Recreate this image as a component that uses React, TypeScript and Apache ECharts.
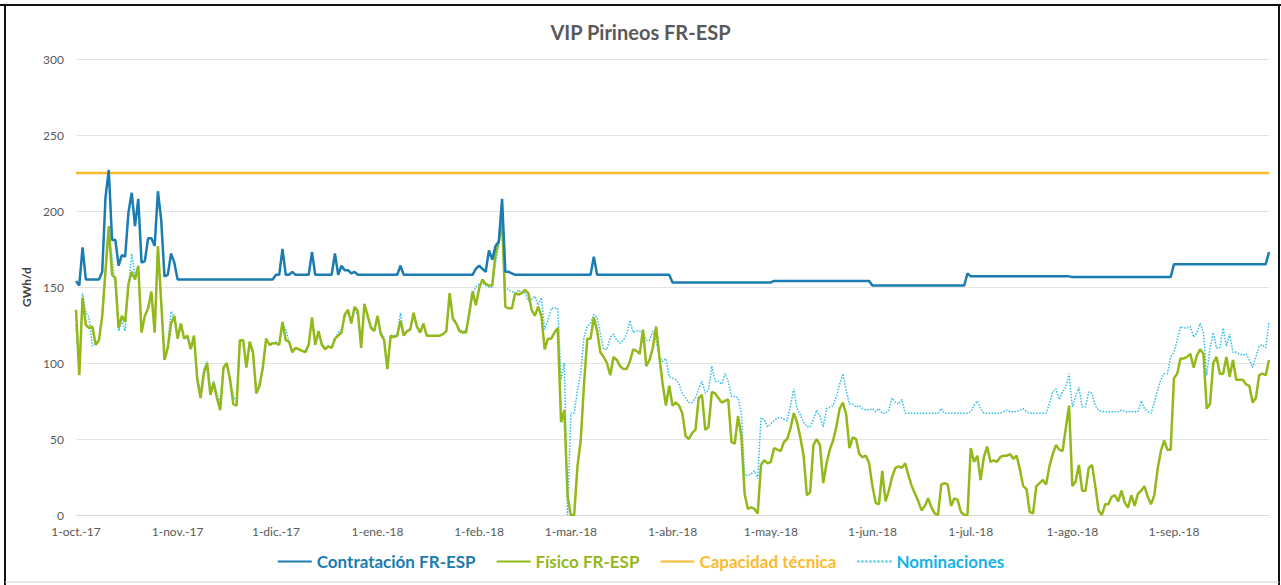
import React, { useEffect, useRef } from "react";
import * as echarts from "echarts";

const MONTHS = ["oct.", "nov.", "dic.", "ene.", "feb.", "mar.", "abr.", "may.", "jun.", "jul.", "ago.", "sep."];
const MONTH_DAYS = [31, 30, 31, 31, 28, 31, 30, 31, 30, 31, 31, 30];
const MONTH_YEARS = ["17", "17", "17", "18", "18", "18", "18", "18", "18", "18", "18", "18"];

const categories: string[] = [];
MONTHS.forEach((m, i) => {
  for (let d = 1; d <= MONTH_DAYS[i]; d++) categories.push(`${d}-${m}-${MONTH_YEARS[i]}`);
});

const contratacion = [
  154, 151, 176, 155, 155, 155, 155, 155, 160, 209,
  227, 181, 181, 164, 171, 170, 199, 212, 190, 208,
  166, 167, 182, 182, 177, 213, 194, 157, 158, 172,
  166, 155, 155, 155, 155, 155, 155, 155, 155, 155,
  155, 155, 155, 155, 155, 155, 155, 155, 155, 155,
  155, 155, 155, 155, 155, 155, 155, 155, 155, 155,
  155, 158, 158, 175, 158, 158, 160, 158, 158, 158,
  158, 158, 173, 158, 158, 158, 158, 158, 158, 172,
  158, 164, 161, 161, 159, 160, 158, 158, 158, 158,
  158, 158, 158, 158, 158, 158, 158, 158, 158, 164,
  158, 158, 158, 158, 158, 158, 158, 158, 158, 158,
  158, 158, 158, 158, 158, 158, 158, 158, 158, 158,
  158, 158, 162, 164, 162, 160, 174, 168, 177, 180,
  208, 160, 160, 159, 158, 158, 158, 158, 158, 158,
  158, 158, 158, 158, 158, 158, 158, 158, 158, 158,
  158, 158, 158, 158, 158, 158, 158, 158, 170, 158,
  158, 158, 158, 158, 158, 158, 158, 158, 158, 158,
  158, 158, 158, 158, 158, 158, 158, 158, 158, 158,
  158, 158, 153, 153, 153, 153, 153, 153, 153, 153,
  153, 153, 153, 153, 153, 153, 153, 153, 153, 153,
  153, 153, 153, 153, 153, 153, 153, 153, 153, 153,
  153, 153, 153, 154, 154, 154, 154, 154, 154, 154,
  154, 154, 154, 154, 154, 154, 154, 154, 154, 154,
  154, 154, 154, 154, 154, 154, 154, 154, 154, 154,
  154, 154, 154, 151, 151, 151, 151, 151, 151, 151,
  151, 151, 151, 151, 151, 151, 151, 151, 151, 151,
  151, 151, 151, 151, 151, 151, 151, 151, 151, 151,
  151, 151, 159, 157, 157, 157, 157, 157, 157, 157,
  157, 157, 157, 157, 157, 157, 157, 157, 157, 157,
  157, 157, 157, 157, 157, 157, 157, 157, 157, 157,
  157, 157, 157, 157, 156.5, 156.5, 156.5, 156.5, 156.5, 156.5,
  156.5, 156.5, 156.5, 156.5, 156.5, 156.5, 156.5, 156.5, 156.5, 156.5,
  156.5, 156.5, 156.5, 156.5, 156.5, 156.5, 156.5, 156.5, 156.5, 156.5,
  156.5, 156.5, 156.5, 156.5, 156.5, 165, 165, 165, 165, 165,
  165, 165, 165, 165, 165, 165, 165, 165, 165, 165,
  165, 165, 165, 165, 165, 165, 165, 165, 165, 165,
  165, 165, 165, 165, 173,
];

const fisico = [
  135, 92, 143, 125, 123, 124, 112, 115, 131, 161,
  190, 158, 156, 123, 131, 127, 152, 160, 155, 164,
  120, 131, 136, 147, 120, 177, 140, 102, 110, 126,
  131, 116, 126, 116, 118, 109, 118, 89, 77, 93,
  100, 79, 87, 77, 69, 97, 100, 89, 73, 72,
  115, 115, 97, 114, 107, 80, 85, 97, 116, 112,
  113, 113, 112, 127, 115, 114, 107, 110, 109, 108,
  107, 112, 130, 112, 121, 112, 109, 111, 110, 116,
  118, 120, 132, 135, 126, 137, 134, 110, 139, 131,
  123, 121, 131, 119, 115, 96, 118, 117, 118, 128,
  118, 121, 122, 133, 124, 120, 126, 118, 118, 118,
  118, 118, 119, 121, 146, 129, 126, 121, 120, 120,
  133, 147, 138, 149, 155, 152, 151, 151, 172, 180,
  194, 137, 136, 136, 146, 145, 146, 148, 146, 135,
  131, 137, 131, 109, 116, 116, 120, 123, 61, 69,
  12, 0, 0, 32, 49, 86, 116, 116, 130, 121,
  107, 104, 100, 92, 104, 102, 98, 96, 96, 101,
  109, 108, 106, 122, 98, 102, 110, 124, 104, 86,
  72, 85, 72, 74, 72, 67, 52, 50, 54, 56,
  77, 79, 56, 58, 81, 80, 77, 74, 75, 76,
  48, 47, 65, 52, 14, 4, 5, 4, 1, 33,
  36, 34, 35, 44, 43, 42, 48, 50, 57, 67,
  61, 51, 39, 13, 15, 46, 50, 46, 21, 34,
  43, 49, 58, 70, 74, 66, 44, 51, 50, 40,
  38, 39, 34, 19, 8, 7, 29, 9, 16, 25,
  31, 32, 31, 34, 26, 19, 14, 9, 3, 6,
  11, 5, 1, 0, 20, 21, 20, 6, 11, 10,
  2, 0, 0, 44, 35, 39, 23, 38, 45, 35,
  36, 35, 38, 39, 39, 40, 37, 39, 30, 19,
  17, 2, 1, 19, 21, 23, 20, 32, 40, 46,
  43, 42, 57, 72, 19, 22, 33, 16, 16, 31,
  33, 19, 3, 0, 7, 7, 12, 13, 9, 16,
  8, 5, 13, 6, 14, 16, 19, 12, 7, 13,
  30, 42, 49, 43, 43, 90, 93, 103, 103, 104,
  106, 97, 105, 109, 106, 70, 73, 100, 104, 93,
  93, 104, 91, 102, 89, 89, 89, 86, 85, 74,
  77, 92, 93, 92, 102,
];

const nominaciones = [
  125, 95, 146, 133, 130, 111, 113, 115, 130, 158,
  183, 170, 150, 121, 128, 121, 150, 172, 157, 160,
  122, 131, 136, 145, 122, 175, 140, 104, 112, 134,
  130, 118, 124, 118, 116, 111, 116, 92, 80, 96,
  101, 82, 88, 80, 74, 96, 99, 90, 78, 75,
  114, 115, 99, 112, 106, 82, 86, 98, 115, 112,
  112, 114, 112, 126, 122, 114, 108, 110, 109, 108,
  108, 112, 128, 113, 120, 113, 110, 111, 110, 115,
  120, 122, 130, 133, 128, 135, 132, 111, 137, 130,
  124, 122, 130, 120, 117, 98, 117, 118, 119, 133,
  119, 121, 123, 132, 125, 121, 125, 119, 118, 118,
  118, 118, 119, 121, 145, 130, 127, 122, 121, 121,
  131, 145, 150, 152, 153, 151, 150, 150, 166, 178,
  190, 150, 148, 147, 146, 148, 146, 146, 141, 142,
  144, 138, 143, 122, 128, 136, 136, 136, 89, 100,
  0, 67, 67, 82, 93, 117, 124, 126, 132, 130,
  119, 109, 109, 117, 119, 115, 113, 115, 119, 128,
  120, 121, 121, 120, 115, 115, 121, 115, 104, 101,
  103, 91, 90, 89, 86, 80, 77, 74, 74, 77,
  83, 88, 80, 82, 98, 88, 88, 86, 93, 88,
  78, 78, 77, 67, 26, 26, 27, 29, 24, 64,
  63, 58, 60, 62, 64, 64, 63, 62, 72, 83,
  70, 66, 61, 58, 58, 63, 69, 65, 58, 70,
  71, 72, 78, 86, 93, 82, 73, 73, 71, 72,
  70, 69, 69, 70, 68, 70, 67, 67, 69, 77,
  74, 73, 76, 67, 67, 67, 67, 67, 67, 67,
  67, 67, 67, 67, 70, 67, 67, 67, 67, 67,
  67, 67, 67, 68, 72, 75, 70, 67, 67, 67,
  67, 67, 67, 68, 69, 68, 68, 68, 69, 70,
  68, 67, 67, 67, 67, 67, 67, 73, 81, 83,
  76, 81, 84, 93, 71, 78, 84, 71, 71, 81,
  80, 72, 69, 68, 68, 68, 68, 68, 68, 69,
  68, 68, 68, 68, 68, 75, 70, 68, 67, 74,
  82, 89, 93, 93, 104, 107, 115, 124, 123, 123,
  124, 117, 120, 126, 120, 92, 110, 120, 110, 110,
  123, 111, 119, 107, 107, 106, 105, 106, 102, 97,
  104, 111, 112, 110, 127,
];

const CAPACIDAD_VALUE = 225;
const capacidad = categories.map(() => CAPACIDAD_VALUE);

const Y_TICKS = { min: 0, max: 300, interval: 50 };

const C_CONTR = "#1a7cb1";
const C_FIS = "#93b81a";
const C_CAP = "#fcbb2e";
const C_NOM = "#2fbdea";
const C_NOM_TEXT = "#14b2e6";

export default function App() {
  const ref = useRef<HTMLDivElement>(null);
  useEffect(() => {
    if (!ref.current) return;
    const chart = echarts.init(ref.current, undefined, { renderer: "svg" });
    const font = "Lato, 'Open Sans', sans-serif";
    chart.setOption({
      animation: false,
      backgroundColor: "#ffffff",
      title: {
        text: "VIP Pirineos FR-ESP",
        left: "center",
        top: 17,
        textStyle: { fontFamily: font, fontSize: 20, fontWeight: "bold", color: "#595959" },
      },
      graphic: [
        { type: "line", shape: { x1: 0, y1: 5, x2: 1281, y2: 5 }, style: { stroke: "#111", lineWidth: 2 } },
        { type: "line", shape: { x1: 5, y1: 4, x2: 5, y2: 585 }, style: { stroke: "#111", lineWidth: 2 } },
        { type: "line", shape: { x1: 1279, y1: 4, x2: 1279, y2: 585 }, style: { stroke: "#111", lineWidth: 2 } },
        { type: "line", shape: { x1: 5, y1: 582, x2: 1279, y2: 582 }, style: { stroke: "#d0d0d0", lineWidth: 1 } },
      ],
      legend: {
        bottom: 10,
        left: "center",
        itemWidth: 34,
        itemHeight: 10,
        itemGap: 20,
        itemStyle: { opacity: 0 },
        textStyle: { fontFamily: font, fontSize: 17, fontWeight: "bold" },
        data: [
          { name: "Contratación FR-ESP", textStyle: { color: C_CONTR } },
          { name: "Físico FR-ESP", textStyle: { color: C_FIS } },
          { name: "Capacidad técnica", textStyle: { color: C_CAP } },
          { name: "Nominaciones", textStyle: { color: C_NOM_TEXT } },
        ],
      },
      grid: { left: 76, right: 12, top: 59, bottom: 70, containLabel: false },
      xAxis: {
        type: "category",
        data: categories,
        boundaryGap: false,
        axisTick: { show: false },
        axisLine: { lineStyle: { color: "#d9d9d9" } },
        axisLabel: {
          interval: (_i: number, v: string) => v.startsWith("1-"),
          color: "#595959",
          fontFamily: font,
          fontSize: 12,
          margin: 10,
        },
        splitLine: { show: false },
      },
      yAxis: {
        type: "value",
        min: Y_TICKS.min,
        max: Y_TICKS.max,
        interval: Y_TICKS.interval,
        name: "GWh/d",
        nameLocation: "middle",
        nameGap: 40,
        nameTextStyle: { fontFamily: font, fontSize: 12, fontWeight: "bold", color: "#404040" },
        axisLine: { show: false },
        axisTick: { show: false },
        axisLabel: { color: "#595959", fontFamily: font, fontSize: 12, margin: 12 },
        splitLine: { lineStyle: { color: "#e3e3e3", width: 1 } },
      },
      series: [
        {
          name: "Nominaciones",
          type: "line",
          data: nominaciones,
          symbol: "none",
          lineStyle: { color: C_NOM, width: 1.5, type: "dotted" },
          itemStyle: { color: C_NOM },
        },
        {
          name: "Capacidad técnica",
          type: "line",
          data: capacidad,
          symbol: "none",
          lineStyle: { color: C_CAP, width: 2.5 },
          itemStyle: { color: C_CAP },
        },
        {
          name: "Físico FR-ESP",
          type: "line",
          data: fisico,
          symbol: "none",
          lineStyle: { color: C_FIS, width: 2.5 },
          itemStyle: { color: C_FIS },
        },
        {
          name: "Contratación FR-ESP",
          type: "line",
          data: contratacion,
          symbol: "none",
          lineStyle: { color: C_CONTR, width: 2.5 },
          itemStyle: { color: C_CONTR },
        },
      ],
    });
    return () => chart.dispose();
  }, []);
  return (
    <div
      ref={ref}
      style={{ position: "fixed", left: 0, top: 0, width: 1281, height: 585, background: "#fff" }}
    />
  );
}
